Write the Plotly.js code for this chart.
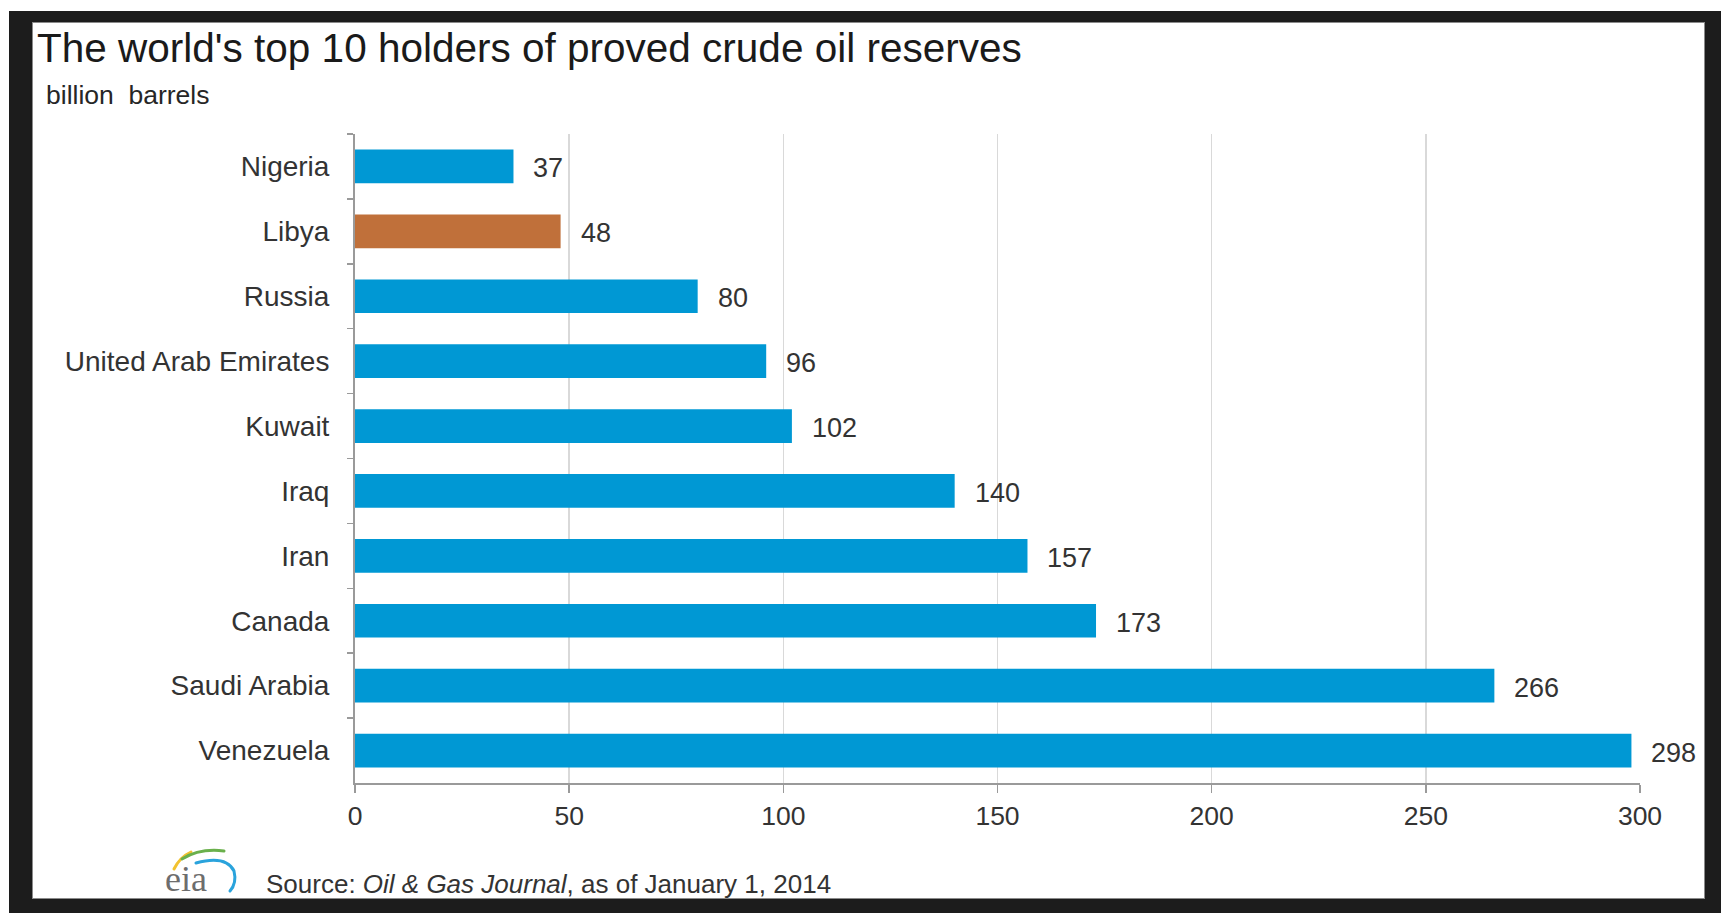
<!DOCTYPE html>
<html>
<head>
<meta charset="utf-8">
<script src="https://cdn.plot.ly/plotly-3.0.1.min.js"></script>
<style>
  html, body { margin: 0; padding: 0; background: #ffffff; width: 1721px; height: 913px; overflow: hidden; }
  #frame { position: absolute; left: 9px; top: 11px; width: 1712px; height: 902px; background: #1c1c1c; }
  #inner { position: absolute; left: 32px; top: 22px; width: 1671px; height: 875px; border: 1px solid #8a8a8a; background: #ffffff; }
  #chart { position: absolute; left: 0; top: 0; width: 1671px; height: 875px; }
  #logo { position: absolute; left: 148px; top: 836px; width: 110px; height: 62px; overflow: visible; }
</style>
</head>
<body>
<div id="frame"></div>
<div id="inner"><div id="chart"></div></div>
<svg id="logo" viewBox="0 0 110 62" xmlns="http://www.w3.org/2000/svg">
  <path d="M26 33 Q 32 21 43 16" stroke="#f2c230" stroke-width="3" fill="none" stroke-linecap="round"/>
  <path d="M34 23 Q 52 12 76 15" stroke="#6ab04c" stroke-width="3" fill="none" stroke-linecap="round"/>
  <path d="M48 27 Q 78 19 86 35 Q 89 47 82 55" stroke="#2aa3dc" stroke-width="3" fill="none" stroke-linecap="round"/>
  <text x="17" y="55" font-family="Liberation Serif, DejaVu Serif, serif" font-size="36" fill="#6d6d6d">eia</text>
</svg>
<script>
// ---- data (top to bottom as shown) ----
var countries = ["Nigeria", "Libya", "Russia", "United Arab Emirates", "Kuwait",
                 "Iraq", "Iran", "Canada", "Saudi Arabia", "Venezuela"];
var reserves = [37, 48, 80, 96, 102, 140, 157, 173, 266, 298];
var highlighted = "Libya";
var xTicks = [0, 50, 100, 150, 200, 250, 300];

var titleText = "The world's top 10 holders of proved crude oil reserves";
var unitText = "billion  barrels";
var sourceText = "Source: <i>Oil &amp; Gas Journal</i>, as of January 1, 2014";

var FONT = "Liberation Sans, Arial, sans-serif";
var BLUE = "#0098d4";
var BROWN = "#c0703a";

var barColors = countries.map(function (c) { return c === highlighted ? BROWN : BLUE; });

var trace = {
  type: "bar",
  orientation: "h",
  x: reserves,
  y: countries,
  marker: { color: barColors, line: { width: 0 } },
  hoverinfo: "x+y"
};

var valueAnnotations = countries.map(function (c, i) {
  return {
    x: reserves[i], y: c, xref: "x", yref: "y",
    text: String(reserves[i]),
    showarrow: false, xanchor: "left", yanchor: "middle",
    xshift: 18, yshift: -2,
    font: { family: FONT, size: 27, color: "#333333" }
  };
});

var W = 1671, H = 875;
var mL = 322, mR = 64, mT = 111, mB = 115;
var pw = W - mL - mR, ph = H - mT - mB;
function px(x) { return (x - mL) / pw; }
function py(y) { return (H - mB - y) / ph; }

var extra = [
  {
    text: unitText, xref: "paper", yref: "paper",
    x: px(11), y: py(72), xanchor: "left", yanchor: "middle",
    showarrow: false, font: { family: FONT, size: 26.5, color: "#262626" }
  },
  {
    text: sourceText, xref: "paper", yref: "paper",
    x: px(231), y: py(861), xanchor: "left", yanchor: "middle",
    showarrow: false, font: { family: FONT, size: 26, color: "#333333" }
  }
];

var layout = {
  width: W, height: H,
  margin: { l: mL, r: mR, t: mT, b: mB, pad: 0 },
  paper_bgcolor: "#ffffff",
  plot_bgcolor: "#ffffff",
  showlegend: false,
  bargap: 0.48,
  title: {
    text: titleText,
    xref: "container", yref: "container",
    x: 4 / W, xanchor: "left",
    y: 1 - 25 / H, yanchor: "middle",
    font: { family: FONT, size: 40.5, color: "#1a1a1a" }
  },
  xaxis: {
    range: [0, 300],
    tickvals: xTicks,
    ticktext: xTicks.map(String),
    showgrid: true, gridcolor: "#d9d9d9", gridwidth: 1.5,
    zeroline: false,
    showline: true, linecolor: "#9a9a9a", linewidth: 2,
    ticks: "outside", ticklen: 8, tickwidth: 1.5, tickcolor: "#9a9a9a",
    ticklabelstandoff: 0,
    tickfont: { family: FONT, size: 26.5, color: "#333333" },
    fixedrange: true
  },
  yaxis: {
    type: "category",
    autorange: "reversed",
    showgrid: false, zeroline: false,
    showline: true, linecolor: "#9a9a9a", linewidth: 2,
    ticks: "outside", tickson: "boundaries", ticklen: 6, tickwidth: 1.5, tickcolor: "#9a9a9a",
    ticklabelstandoff: 18,
    tickfont: { family: FONT, size: 28, color: "#333333" },
    fixedrange: true
  },
  annotations: valueAnnotations.concat(extra)
};

Plotly.newPlot("chart", [trace], layout, { displayModeBar: false, staticPlot: true });
</script>
</body>
</html>
